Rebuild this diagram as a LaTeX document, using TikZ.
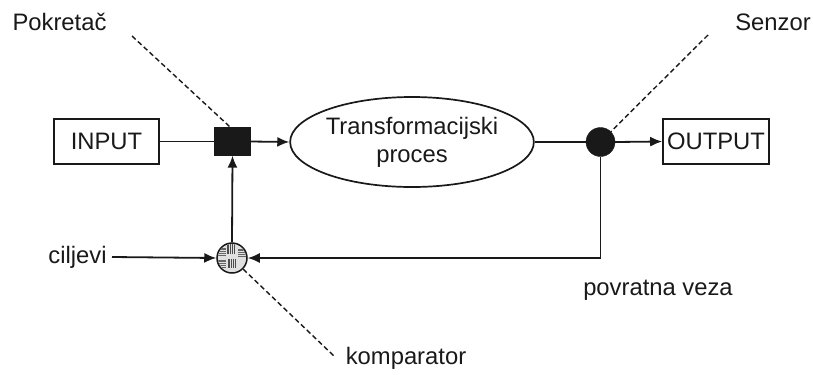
\documentclass[tikz,border=0pt]{standalone}
\usepackage{fontspec}
\setmainfont{Liberation Sans}
\usetikzlibrary{arrows.meta,shapes.geometric}
\begin{document}
\begin{tikzpicture}[x=1bp,y=-1bp,
  every node/.style={font=\fontsize{23.8bp}{27bp}\selectfont, text=black!90},
  wire/.style={line width=1.8bp, draw=black!90},
  arr/.style={wire, -{Latex[length=12bp,width=10bp]}},
  leader/.style={line width=1.4bp, draw=black!90, dash pattern=on 5bp off 3bp},
  boxnode/.style={draw=black!90, line width=1.6bp, minimum width=105bp, minimum height=45bp, inner sep=0pt},
  lbl/.style={inner sep=0pt, anchor=center}]
\useasboundingbox (0,0) rectangle (813,374);
% nodes
\node[boxnode] (inp) at (106.5,141.5) {INPUT};
\node[boxnode, minimum width=106bp] (out) at (716,141.5) {OUTPUT};
\node[draw=black!90, fill=black!90, line width=1.2bp, minimum width=35bp, minimum height=27bp, inner sep=0pt] (act) at (232.5,141.5) {};
\node[draw=black!90, ellipse, line width=1.7bp, minimum width=237bp, minimum height=90bp, inner sep=0pt, align=center, font=\fontsize{23.8bp}{28bp}\selectfont] (proc) at (412,142) {Transformacijski\\proces};
\node[circle, draw=black!90, fill=black!90, minimum size=29bp, inner sep=0pt] (sen) at (600.5,142) {};
\node[circle, draw=black!90, fill=black!12, line width=1.5bp, minimum size=30bp, inner sep=0pt] (cmp) at (232,258) {};
% comparator texture
\begin{scope}
\clip (232,258) circle (14bp);
\foreach \i in {0,...,4} {
  \draw[black!70, line width=0.7bp] (227+1.8*\i,244) -- (227+1.8*\i,254);
  \draw[black!70, line width=0.7bp] (228+1.8*\i,259) -- (228+1.8*\i,268);
  \draw[black!60, line width=0.7bp] (218,248+1.8*\i) -- (226,248+1.8*\i);
  \draw[black!60, line width=0.7bp] (238,249+1.8*\i) -- (247,249+1.8*\i);
  \draw[black!60, line width=0.7bp] (218,260+1.8*\i) -- (226,260+1.8*\i);
}
\end{scope}
\node[lbl] (cilj) at (77.5,257) {ciljevi};
\node[lbl] (pok) at (59.5,22) {Pokretač};
\node[lbl] (senz) at (773,22) {Senzor};
\node[lbl] (pov) at (658,290) {povratna veza};
\node[lbl] (komp) at (406,358) {komparator};
\coordinate (pokend) at (132,36);
\coordinate (senend) at (708,35);
\coordinate (kompend) at (335,357);
\coordinate (fbcorner) at (600.5,258);
% connectors
\draw[wire] (inp.east) -- (act.west);
\draw[arr] (act.east) -- (proc.west);
\draw[wire] (proc.east) -- (sen.west);
\draw[arr] (sen.east) -- (out.west);
\draw[arr] (sen.south) -- (fbcorner) -- (cmp.east);
\draw[arr] (cmp.north) -- (act.south);
\draw[arr] (112,257) -- (cmp.west);
\draw[leader] (pokend) -- ([xshift=-2bp]act.north);
\draw[leader] (senend) -- (sen.45);
\draw[leader] (cmp.-45) -- (kompend);
\end{tikzpicture}
\end{document}
